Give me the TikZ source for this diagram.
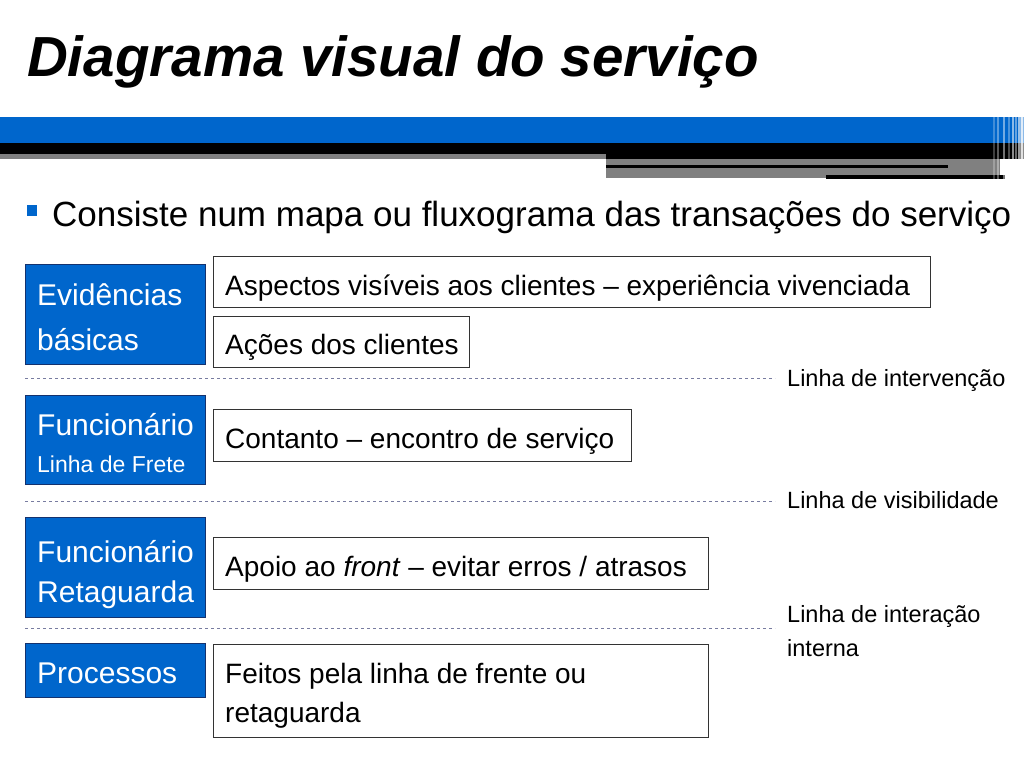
\documentclass[tikz,border=0pt]{standalone}
\usepackage{fontspec}
\setmainfont{Liberation Sans}
\definecolor{slideblue}{RGB}{0,102,204}
\definecolor{laneedge}{RGB}{20,50,110}
\definecolor{dashgray}{RGB}{120,124,160}
\definecolor{bargray}{RGB}{128,128,128}
\tikzset{
  lanebox/.style={draw=laneedge, fill=slideblue, line width=0.9pt, anchor=north west, inner sep=0pt, outer sep=0pt},
  contentbox/.style={draw=black!80, fill=white, line width=0.9pt, anchor=north west, inner sep=0pt, outer sep=0pt},
  lanetext/.style={anchor=base west, text=white, inner sep=0pt, font=\fontsize{30}{30}\selectfont},
  lanesmall/.style={anchor=base west, text=white, inner sep=0pt, font=\fontsize{23}{23}\selectfont},
  bodytext/.style={anchor=base west, inner sep=0pt, font=\fontsize{28}{28}\selectfont},
  sidetext/.style={anchor=base west, inner sep=0pt, font=\fontsize{23.5}{23.5}\selectfont},
  laneline/.style={draw=dashgray, dash pattern=on 3pt off 3pt, line width=0.8pt},
}
\begin{document}
\begin{tikzpicture}[x=1pt,y=-1pt]
\useasboundingbox (0,0) rectangle (1024,768);
\fill[white] (0,0) rectangle (1024,768);

% title
\node[anchor=base west, inner sep=0pt, font=\fontsize{56.5}{56.5}\selectfont\bfseries\itshape] (title) at (27,76) {Diagrama visual do serviço};

% header bars
\fill[slideblue] (0,117) rectangle (1024,143);
\fill[black] (0,143) rectangle (1024,154);
\fill[bargray] (0,154) rectangle (606,159);
\fill[black] (606,154) rectangle (1024,159);
\fill[bargray] (606,159) rectangle (1000,178);
\fill[black] (606,164.5) rectangle (948,167.5);
\fill[black] (826,175) rectangle (1005,179);
\foreach \xx/\op in {993/0.25,997/0.35,1003/0.45,1008/0.3,1012/0.55,1015/0.4,1018/0.6,1021/0.75}
  \fill[white, opacity=\op] (\xx,117) rectangle (\xx+1.6,180);
\fill[white, opacity=0.55] (1020,117) rectangle (1024,180);

% bullet
\fill[slideblue] (27,205) rectangle (37,216);
\node[anchor=base west, inner sep=0pt, font=\fontsize{35}{35}\selectfont] (intro) at (52,226) {Consiste num mapa ou fluxograma das transações do serviço};

% lane boxes
\node[lanebox, minimum width=180pt, minimum height=100pt] (ev) at (25,264) {};
\node[lanetext] (evA) at (37,305) {Evidências};
\node[lanetext] (evB) at (37,350) {básicas};

\node[lanebox, minimum width=180pt, minimum height=89pt] (ff) at (25,395) {};
\node[lanetext] (ffA) at (37,435) {Funcionário};
\node[lanesmall] (ffB) at (37,472) {Linha de Frete};

\node[lanebox, minimum width=180pt, minimum height=100pt] (fr) at (25,517) {};
\node[lanetext] (frA) at (37,562) {Funcionário};
\node[lanetext] (frB) at (37,602) {Retaguarda};

\node[lanebox, minimum width=180pt, minimum height=54pt] (pr) at (25,643) {};
\node[lanetext] (prA) at (37,683) {Processos};

% content boxes
\node[contentbox, minimum width=717pt, minimum height=51pt] (asp) at (213,256) {};
\node[bodytext] (aspT) at (225,295) {Aspectos visíveis aos clientes – experiência vivenciada};

\node[contentbox, minimum width=256pt, minimum height=51pt] (aco) at (213,316) {};
\node[bodytext] (acoT) at (225,354) {Ações dos clientes};

\node[contentbox, minimum width=418pt, minimum height=52pt] (con) at (213,409) {};
\node[bodytext] (conT) at (225,448) {Contanto – encontro de serviço};

\node[contentbox, minimum width=495pt, minimum height=52pt] (apo) at (213,537) {};
\node[bodytext] (apoT) at (225,576) {Apoio ao \textit{front} – evitar erros / atrasos};

\node[contentbox, minimum width=495pt, minimum height=93pt] (fei) at (213,644) {};
\node[bodytext] (feiA) at (225,683) {Feitos pela linha de frente ou};
\node[bodytext] (feiB) at (225,722) {retaguarda};

% lines of the blueprint
\coordinate (l1s) at (25,378); \coordinate (l1e) at (775,378);
\coordinate (l2s) at (25,501); \coordinate (l2e) at (775,501);
\coordinate (l3s) at (25,628); \coordinate (l3e) at (775,628);
\draw[laneline] (l1s) -- (l1e);
\draw[laneline] (l2s) -- (l2e);
\draw[laneline] (l3s) -- (l3e);
\node[sidetext] (s1) at (787,386) {Linha de intervenção};
\node[sidetext] (s2) at (787,508) {Linha de visibilidade};
\node[sidetext] (s3a) at (787,622) {Linha de interação};
\node[sidetext] (s3b) at (787,656) {interna};
\end{tikzpicture}
\end{document}
